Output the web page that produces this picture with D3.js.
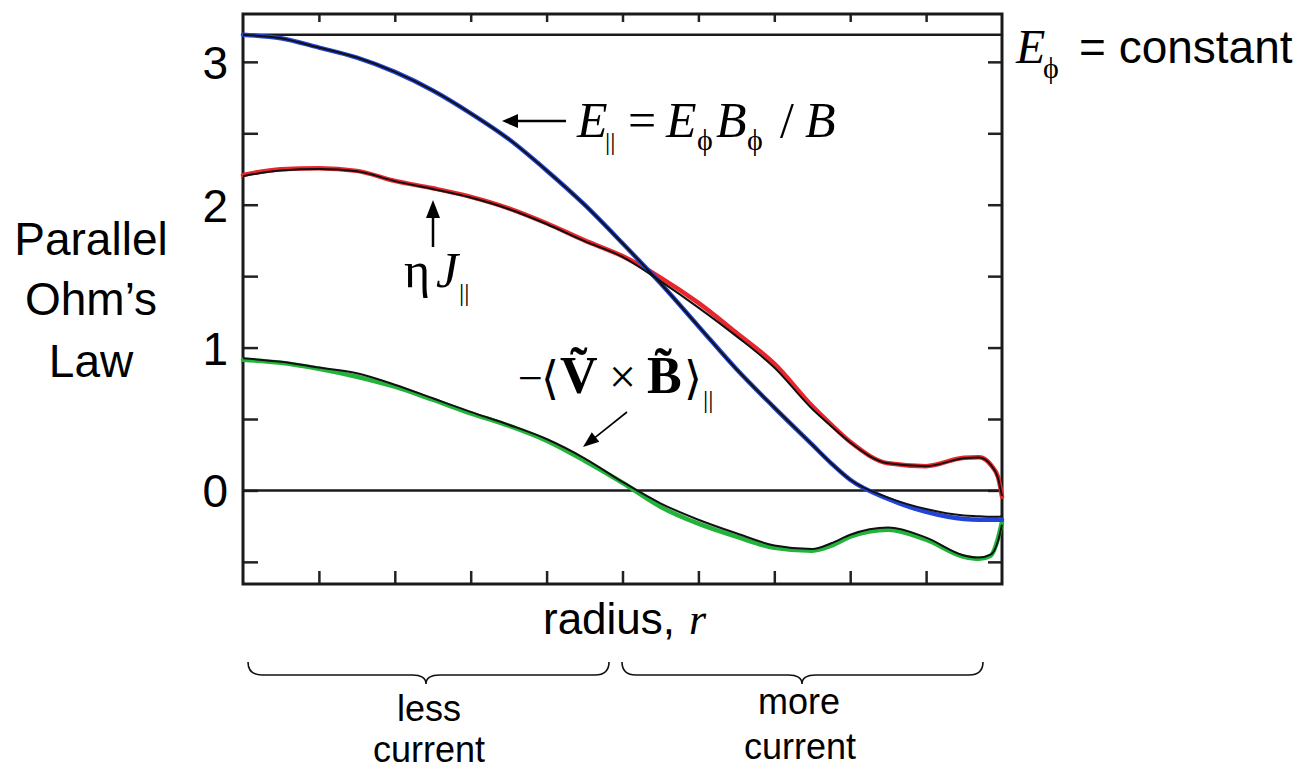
<!DOCTYPE html>
<html>
<head>
<meta charset="utf-8">
<script src="https://cdn.jsdelivr.net/npm/d3@7"></script>
<style>
  html, body { margin: 0; padding: 0; background: #fff; }
  svg { display: block; }
</style>
</head>
<body>
<svg id="chart" width="1315" height="772"></svg>
<script>
// Normalised radius at which each profile is sampled
const radius = [0, 0.05, 0.10, 0.15, 0.20, 0.25, 0.30, 0.35, 0.40, 0.45, 0.50, 0.55, 0.60,
                0.65, 0.70, 0.75, 0.775, 0.80, 0.85, 0.90, 0.95, 0.97, 0.985, 0.995, 1.0];

// E_parallel = E_phi B_phi / B (blue) and its black companion trace
const eParallel      = [3.19, 3.165, 3.10, 3.03, 2.93, 2.80, 2.64, 2.46, 2.24, 2.00, 1.73, 1.45, 1.15,
                        0.85, 0.58, 0.32, 0.19, 0.075, -0.06, -0.15, -0.20, -0.205, -0.205, -0.205, -0.205];
const eParallelTrace = [3.19, 3.165, 3.10, 3.03, 2.93, 2.80, 2.64, 2.46, 2.24, 2.00, 1.73, 1.45, 1.15,
                        0.85, 0.58, 0.32, 0.19, 0.075, -0.05, -0.13, -0.175, -0.18, -0.185, -0.185, -0.18];

// eta J_parallel (red) and its black companion trace
const etaJ      = [2.208, 2.248, 2.255, 2.237, 2.167, 2.115, 2.055, 1.975, 1.870, 1.750, 1.640, 1.490, 1.313,
                   1.104, 0.887, 0.59, 0.46, 0.34, 0.19, 0.17, 0.229, 0.232, 0.18, 0.089, -0.044];
const etaJTrace = [2.20, 2.24, 2.25, 2.235, 2.165, 2.11, 2.05, 1.97, 1.865, 1.745, 1.635, 1.465, 1.28,
                   1.08, 0.86, 0.57, 0.45, 0.335, 0.19, 0.17, 0.225, 0.23, 0.18, 0.08, -0.04];

// -<V x B>_parallel dynamo term (green) and its black companion trace
const dynamo      = [0.915, 0.894, 0.852, 0.796, 0.726, 0.635, 0.540, 0.453, 0.348, 0.208, 0.054, -0.114, -0.233,
                     -0.324, -0.401, -0.422, -0.387, -0.324, -0.275, -0.345, -0.464, -0.478, -0.457, -0.331, -0.219];
const dynamoTrace = [0.925, 0.90, 0.86, 0.82, 0.74, 0.645, 0.55, 0.46, 0.36, 0.225, 0.06, -0.09, -0.205,
                     -0.30, -0.385, -0.41, -0.37, -0.31, -0.26, -0.33, -0.455, -0.47, -0.45, -0.35, -0.24];

// Toroidal field E_phi (constant) and the zero reference
const ePhiConstant = 3.19;
const zeroLevel = 0;

// Axis ticks
const yTicks = [-0.5, 0, 0.5, 1, 1.5, 2, 2.5, 3];
const yTickLabels = [3, 2, 1, 0];
const xTicks = [0.1, 0.2, 0.3, 0.4, 0.5, 0.6, 0.7, 0.8, 0.9];

const svg = d3.select("#chart");
const plotLeft = 243, plotRight = 1002, plotTop = 14, plotBottom = 584;

const x = d3.scaleLinear().domain([0, 1]).range([plotLeft, plotRight]);
const y = d3.scaleLinear().domain([-0.655, 3.335]).range([plotBottom, plotTop]);

const sans = "'Liberation Sans', Arial, Helvetica, sans-serif";
const serif = "'Liberation Serif', 'Times New Roman', 'DejaVu Serif', serif";
const bracketFont = "'DejaVu Serif', 'DejaVu Sans', serif";

// ---- axes (ticks point inward on all four sides) ----
const axisStyle = g => {
  g.select(".domain").remove();
  g.selectAll(".tick line").attr("stroke", "#222").attr("stroke-width", 2.5);
};

svg.append("g").attr("transform", `translate(${plotLeft},0)`)
  .call(d3.axisLeft(y).tickValues(yTicks).tickSize(-15).tickSizeOuter(0)
        .tickPadding(15).tickFormat(d => yTickLabels.includes(d) ? d : ""))
  .call(axisStyle)
  .call(g => g.selectAll(".tick text")
    .attr("font-family", sans).attr("font-size", 46).attr("fill", "#000").attr("dy", "0.36em"));

svg.append("g").attr("transform", `translate(${plotRight},0)`)
  .call(d3.axisRight(y).tickValues(yTicks).tickSize(-14).tickSizeOuter(0).tickFormat(""))
  .call(axisStyle);

svg.append("g").attr("transform", `translate(0,${plotTop})`)
  .call(d3.axisTop(x).tickValues(xTicks).tickSize(-8).tickSizeOuter(0).tickFormat(""))
  .call(axisStyle);

svg.append("g").attr("transform", `translate(0,${plotBottom})`)
  .call(d3.axisBottom(x).tickValues(xTicks).tickSize(-13).tickSizeOuter(0).tickFormat(""))
  .call(axisStyle);

// frame
svg.append("rect")
  .attr("x", plotLeft).attr("y", plotTop)
  .attr("width", plotRight - plotLeft).attr("height", plotBottom - plotTop)
  .attr("fill", "none").attr("stroke", "#1a1a1a").attr("stroke-width", 3);

// horizontal reference lines
[ePhiConstant, zeroLevel].forEach(v => {
  svg.append("line")
    .attr("x1", x(0)).attr("x2", x(1)).attr("y1", y(v)).attr("y2", y(v))
    .attr("stroke", "#1a1a1a").attr("stroke-width", 2.5);
});

// ---- profiles ----
const line = d3.line().x(d => x(d[0])).y(d => y(d[1])).curve(d3.curveMonotoneX);
const pairs = vals => radius.map((r, i) => [r, vals[i]]);

const profiles = [
  { vals: dynamo,    color: "#22b33a" },
  { vals: etaJ,      color: "#e8262b" },
  { vals: eParallel, color: "#2244d8" }
];
const traces = [dynamoTrace, etaJTrace, eParallelTrace];

profiles.forEach(p => {
  svg.append("path").attr("d", line(pairs(p.vals)))
    .attr("fill", "none").attr("stroke", p.color).attr("stroke-width", 4.5)
    .attr("stroke-linejoin", "round").attr("stroke-linecap", "round");
});
traces.forEach(t => {
  svg.append("path").attr("d", line(pairs(t)))
    .attr("fill", "none").attr("stroke", "#111").attr("stroke-width", 2)
    .attr("stroke-linejoin", "round");
});

// ---- annotations ----
// A formula is one <text>; each part is a tspan placed at its own x/y.
function formula(parts) {
  const t = svg.append("text").attr("fill", "#000");
  parts.forEach(p => {
    t.append("tspan")
      .attr("x", p.x).attr("y", p.y)
      .attr("font-family", p.family || serif)
      .attr("font-size", p.size || 48)
      .attr("font-style", p.italic ? "italic" : "normal")
      .attr("font-weight", p.bold ? "bold" : "normal")
      .text(p.t);
  });
}

function label(t, xPos, yPos, size, anchor) {
  svg.append("text").attr("x", xPos).attr("y", yPos)
    .attr("font-family", sans).attr("font-size", size)
    .attr("text-anchor", anchor || "middle").attr("fill", "#000").text(t);
}

function arrow(x1, y1, x2, y2, w, headLen, headHalf) {
  const dx = x2 - x1, dy = y2 - y1, len = Math.hypot(dx, dy);
  const ux = dx / len, uy = dy / len;
  const bx = x2 - ux * headLen, by = y2 - uy * headLen;
  svg.append("line").attr("x1", x1).attr("y1", y1).attr("x2", bx + ux * 2).attr("y2", by + uy * 2)
    .attr("stroke", "#000").attr("stroke-width", w);
  svg.append("path")
    .attr("d", `M${x2},${y2}L${bx - uy * headHalf},${by + ux * headHalf}L${bx + uy * headHalf},${by - ux * headHalf}Z`)
    .attr("fill", "#000");
}

// E_phi = constant
formula([
  { t: "E", x: 1016, y: 63, size: 48, italic: true },
  { t: "ϕ", x: 1043, y: 78, size: 30 },
  { t: "= constant", x: 1079, y: 63, size: 46, family: sans }
]);

// E_|| = E_phi B_phi / B
arrow(566, 121, 502, 121, 2.5, 16, 7);
formula([
  { t: "E", x: 577, y: 137, size: 50, italic: true },
  { t: "||", x: 605, y: 150, size: 26 },
  { t: "=", x: 628, y: 137, size: 50 },
  { t: "E", x: 666, y: 137, size: 50, italic: true },
  { t: "ϕ", x: 697, y: 150, size: 30 },
  { t: "B", x: 716, y: 137, size: 50, italic: true },
  { t: "ϕ", x: 747, y: 150, size: 30 },
  { t: "/", x: 780, y: 137, size: 50 },
  { t: "B", x: 805, y: 137, size: 50, italic: true }
]);

// eta J_||
arrow(433, 247, 433, 200, 2.5, 18, 7);
formula([
  { t: "η", x: 404, y: 287, size: 50 },
  { t: "J", x: 436, y: 287, size: 50, italic: true },
  { t: "||", x: 459, y: 301, size: 26 }
]);

// -<V x B>_||
arrow(627, 412, 583, 447, 1.6, 16, 6);
formula([
  { t: "−", x: 518, y: 393, size: 44 },
  { t: "⟨", x: 541, y: 394, size: 46, family: bracketFont },
  { t: "V\u0303", x: 560, y: 393, size: 52, bold: true },
  { t: "×", x: 609, y: 393, size: 48 },
  { t: "B\u0303", x: 647, y: 393, size: 52, bold: true },
  { t: "⟩", x: 684, y: 394, size: 46, family: bracketFont },
  { t: "||", x: 703, y: 408, size: 26 }
]);

// y-axis title
label("Parallel", 91, 255, 46);
label("Ohm’s", 91, 315, 46);
label("Law", 91, 377, 46);

// x-axis title
formula([
  { t: "radius,", x: 543, y: 634, size: 44, family: sans },
  { t: "r", x: 689, y: 634, size: 44, italic: true }
]);

// curly braces under the axis
function brace(x0, x1, tip, yTop, yMid, yTip) {
  const c = 14;
  const d = `M${x0},${yTop} Q${x0},${yMid} ${x0 + c},${yMid} L${tip - c},${yMid} Q${tip},${yMid} ${tip},${yTip}` +
            ` Q${tip},${yMid} ${tip + c},${yMid} L${x1 - c},${yMid} Q${x1},${yMid} ${x1},${yTop}`;
  svg.append("path").attr("d", d).attr("fill", "none").attr("stroke", "#111").attr("stroke-width", 1.6);
}
brace(248, 609, 426, 662, 675, 684);
brace(622, 983, 802, 662, 675, 684);

label("less", 429, 721, 36);
label("current", 429, 762, 36);
label("more", 799, 714, 36);
label("current", 800, 759, 36);
</script>
</body>
</html>
